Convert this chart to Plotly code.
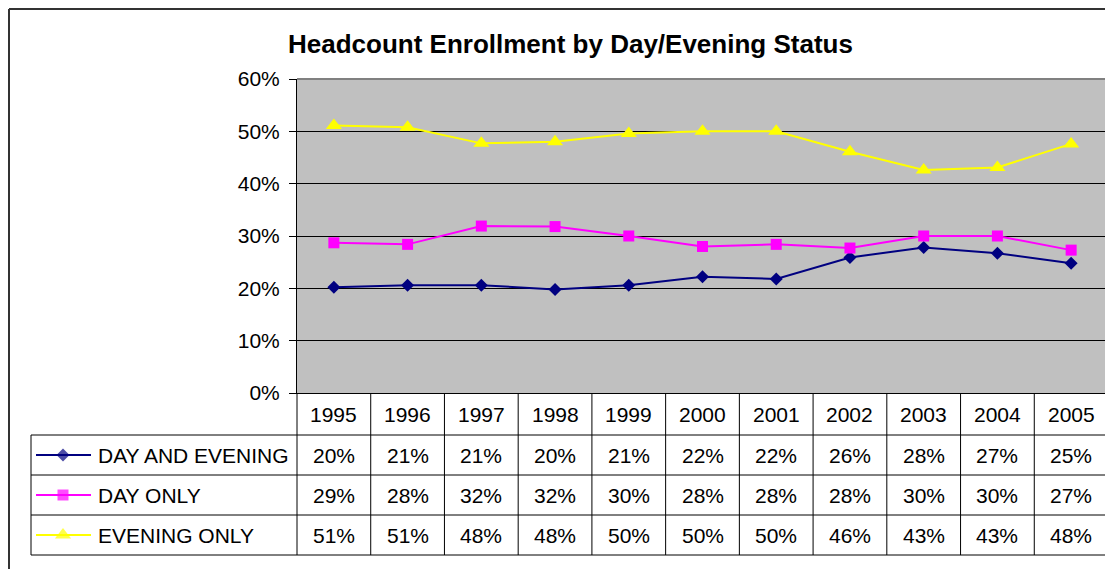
import plotly.graph_objects as go

# ---------------- data ----------------
years = [1995, 1996, 1997, 1998, 1999, 2000, 2001, 2002, 2003, 2004, 2005]
series_names = ["DAY AND EVENING", "DAY ONLY", "EVENING ONLY"]
day_and_evening = [0.202, 0.206, 0.206, 0.198, 0.206, 0.222, 0.218, 0.259, 0.278, 0.267, 0.248]
day_only = [0.287, 0.284, 0.319, 0.318, 0.300, 0.280, 0.284, 0.277, 0.300, 0.300, 0.273]
evening_only = [0.511, 0.508, 0.477, 0.480, 0.496, 0.500, 0.500, 0.461, 0.426, 0.431, 0.476]
y_ticks = [0.0, 0.1, 0.2, 0.3, 0.4, 0.5, 0.6]
title_text = "Headcount Enrollment by Day/Evening Status"

# ---------------- styles ----------------
series_values = [day_and_evening, day_only, evening_only]
colors = ["#000080", "#FF00FF", "#FFFF00"]
symbols = ["diamond", "square", "triangle-up"]
msizes = [10, 11, 14]
FONT = "Liberation Sans, Arial, sans-serif"
FS = 21

W, H = 1105, 561                          # fits the window inside the page margins
L, R, T, B = 289, 1100, 71, 385          # plot area in pixels (figure coords)
cw = (R - L) / len(years)                # table column width in pixels
x_lo, x_hi = years[0] - 0.5, years[-1] + 0.5
row_edges = [B, 427, 467, 507, 547]      # table row boundaries (pixels)
leg_left = 23

def px2x(p):
    """pixel -> x2 (year) units"""
    return x_lo + (p - L) / cw

fig = go.Figure()

# data lines
for name, vals, c, s, sz in zip(series_names, series_values, colors, symbols, msizes):
    fig.add_trace(go.Scatter(
        x=years, y=vals, name=name, mode="lines+markers",
        line=dict(color=c, width=2),
        marker=dict(symbol=s, size=sz, color=c, line=dict(width=0)),
        xaxis="x", yaxis="y", showlegend=False, cliponaxis=False,
        hoverinfo="skip"))

# legend keys in the table
for i, (name, c, s, sz) in enumerate(zip(series_names, colors, symbols, msizes)):
    rc = (row_edges[i + 1] + row_edges[i + 2]) / 2
    fig.add_trace(go.Scatter(
        x=[px2x(28), px2x(55), px2x(83)], y=[rc, rc, rc],
        mode="lines+markers", line=dict(color=c, width=2),
        marker=dict(symbol=s, size=[0, sz, 0], color=c, line=dict(width=0)),
        xaxis="x2", yaxis="y2", showlegend=False, hoverinfo="skip"))

shapes = []
# gray plot background
shapes.append(dict(type="rect", xref="x domain", yref="y domain", x0=0, x1=1, y0=0, y1=1,
                   fillcolor="#C0C0C0", line=dict(width=0), layer="below"))
# plot border top / right (gray)
shapes.append(dict(type="line", xref="x domain", yref="y domain", x0=0, x1=1, y0=1, y1=1,
                   line=dict(color="#808080", width=2)))
shapes.append(dict(type="line", xref="x domain", yref="y domain", x0=1, x1=1, y0=0, y1=1,
                   line=dict(color="#808080", width=2)))

# table grid
LC = "#000000"
for k in range(len(years) + 1):
    shapes.append(dict(type="line", xref="x2", yref="y2", x0=x_lo + k, x1=x_lo + k,
                       y0=row_edges[0], y1=row_edges[-1], line=dict(color=LC, width=1)))
for e in row_edges[1:]:
    shapes.append(dict(type="line", xref="x2", yref="y2", x0=px2x(leg_left), x1=x_hi,
                       y0=e, y1=e, line=dict(color=LC, width=1)))
shapes.append(dict(type="line", xref="x2", yref="y2", x0=px2x(leg_left), x1=px2x(leg_left),
                   y0=row_edges[1], y1=row_edges[-1], line=dict(color=LC, width=1)))
# outer chart frame (left and top edges; the rest lies beyond the window)
shapes.append(dict(type="line", xref="paper", yref="paper", x0=1 / W, x1=1 / W,
                   y0=0, y1=1 - 1 / H, line=dict(color="#333333", width=2)))
shapes.append(dict(type="line", xref="paper", yref="paper", x0=1 / W, x1=1,
                   y0=1 - 1 / H, y1=1 - 1 / H, line=dict(color="#333333", width=2)))

annotations = []
# title
annotations.append(dict(text="<b>" + title_text + "</b>", xref="paper", yref="paper",
                        x=562.5 / W, y=1 - 36 / H, showarrow=False, xanchor="center", yanchor="middle",
                        font=dict(family=FONT, size=26, color="black")))
# year header
hc = (row_edges[0] + row_edges[1]) / 2
for yr in years:
    annotations.append(dict(text=str(yr), xref="x2", yref="y2", x=yr, y=hc, showarrow=False,
                            xanchor="center", yanchor="middle",
                            font=dict(family=FONT, size=FS, color="black")))
# rows
for i, (name, vals) in enumerate(zip(series_names, series_values)):
    rc = (row_edges[i + 1] + row_edges[i + 2]) / 2
    annotations.append(dict(text=name, xref="x2", yref="y2", x=px2x(88), y=rc, showarrow=False,
                            xanchor="left", yanchor="middle",
                            font=dict(family=FONT, size=FS, color="black")))
    for yr, v in zip(years, vals):
        annotations.append(dict(text=f"{round(v * 100)}%", xref="x2", yref="y2", x=yr, y=rc,
                                showarrow=False, xanchor="center", yanchor="middle",
                                font=dict(family=FONT, size=FS, color="black")))

fig.update_layout(
    width=W, height=H, autosize=False,
    margin=dict(l=0, r=0, t=0, b=0, pad=0, autoexpand=False),
    paper_bgcolor="white", plot_bgcolor="rgba(0,0,0,0)",
    font=dict(family=FONT, size=FS, color="black"),
    xaxis=dict(domain=[L / W, R / W], range=[x_lo, x_hi], showticklabels=False, ticks="",
               showgrid=False, zeroline=False, showline=True, linecolor="black", linewidth=1,
               fixedrange=True, automargin=False),
    yaxis=dict(domain=[1 - B / H, 1 - T / H], range=[0, 0.6], tickvals=y_ticks, tickformat=".0%",
               ticks="outside", ticklen=7, tickcolor="black", tickwidth=1,
               showgrid=True, gridcolor="#000000", gridwidth=1, zeroline=False,
               showline=True, linecolor="black", linewidth=1, fixedrange=True, automargin=False,
               tickfont=dict(family=FONT, size=FS, color="black"), ticklabelstandoff=5),
    xaxis2=dict(domain=[0, 1], range=[px2x(0), px2x(W)], visible=False, fixedrange=True,
                automargin=False),
    yaxis2=dict(domain=[0, 1], range=[H, 0], visible=False, fixedrange=True, automargin=False),
    shapes=shapes, annotations=annotations, showlegend=False,
)

fig.write_html("out.html")
